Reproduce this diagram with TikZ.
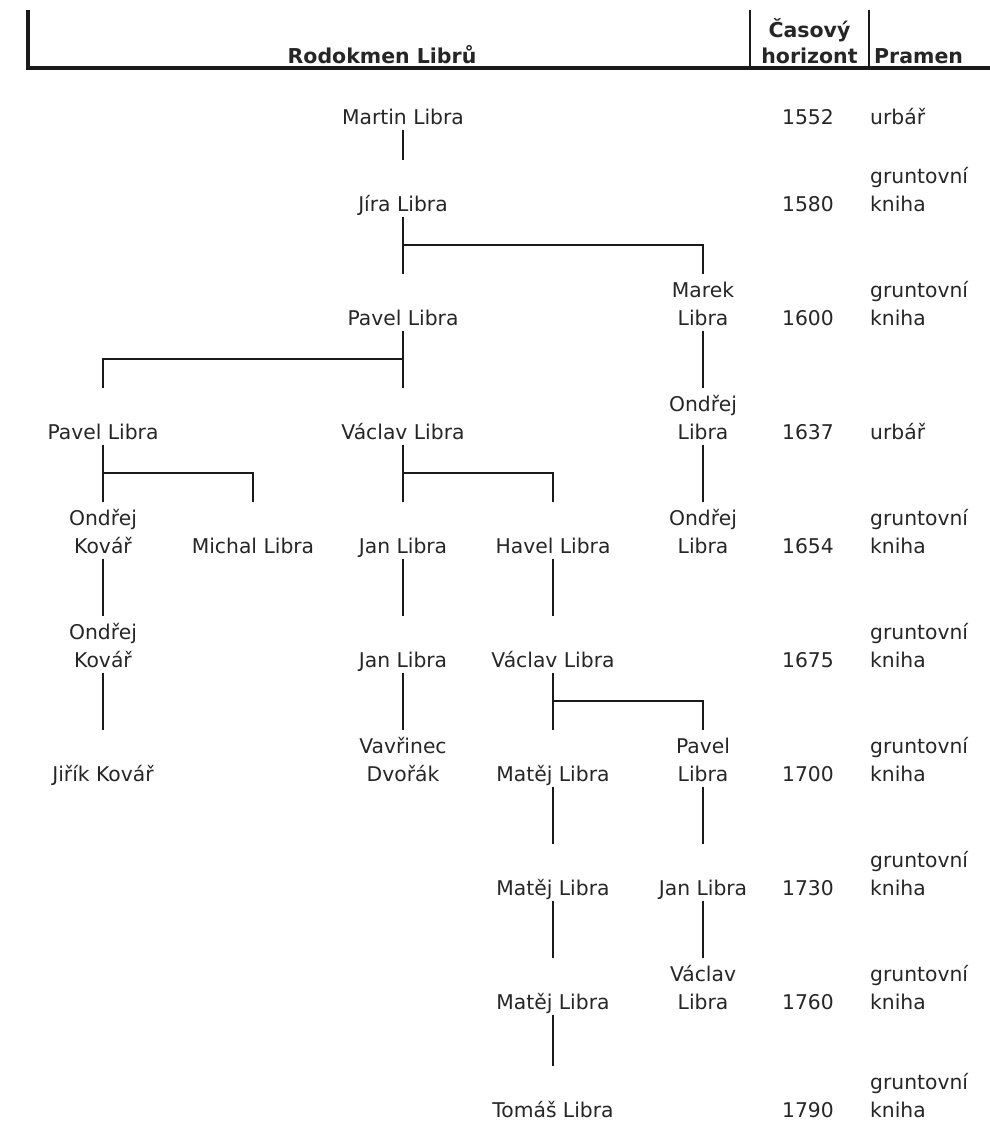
\documentclass[tikz,border=0pt]{standalone}
\usepackage{fontspec}
\setmainfont{DejaVu Sans}
\usetikzlibrary{calc}
\definecolor{txt}{HTML}{262626}
\definecolor{ln}{HTML}{1A1A1A}
\newcommand{\tkchild}[2]{\draw[link] ($(#1.base)+(0,5.5)$) -- ($(#2.base)+(0,-51)$);}
\newcommand{\tkbranch}[3]{\tkchild{#1}{#2}\draw[link] ($(#1.base)+(0,34)$) -| ($(#3.base)+(0,-51)$);}
\begin{document}
\begin{tikzpicture}[x=1pt,y=-1pt,
  person/.style={anchor=base, inner sep=0pt, align=center, text=txt, font=\fontsize{20.3}{28}\selectfont},
  yr/.style={anchor=base, inner sep=0pt, text=txt, font=\fontsize{20.3}{28}\selectfont},
  src/.style={anchor=base west, inner sep=0pt, align=left, text=txt, font=\fontsize{20.3}{28}\selectfont},
  head/.style={anchor=base, inner sep=0pt, align=center, text=txt, font=\bfseries\fontsize{20.5}{26}\selectfont},
  link/.style={draw=ln, line width=1.6pt},
  rulebar/.style={draw=ln, line width=3.6pt},
  sepbar/.style={draw=ln, line width=2.4pt}]
\fill[white] (0,0) rectangle (989,1122);
\useasboundingbox (0,0) rectangle (989,1122);
% header
\draw[rulebar] (28,10) |- (995,68);
\draw[sepbar] (750,10) -- (750,68);
\draw[sepbar] (869,10) -- (869,68);
\node[head] (hname) at (382,63) {Rodokmen Librů};
\node[head] (htime) at (809.5,63) {Časový\\horizont};
\node[head, anchor=base west] (hsrc) at (874,63) {Pramen};
% years and sources
\node[yr] (y1552) at (808,124) {1552};  \node[src] (s1552) at (870,124) {urbář};
\node[yr] (y1580) at (808,211) {1580};  \node[src] (s1580) at (870,211) {gruntovní\\kniha};
\node[yr] (y1600) at (808,325) {1600};  \node[src] (s1600) at (870,325) {gruntovní\\kniha};
\node[yr] (y1637) at (808,439) {1637};  \node[src] (s1637) at (870,439) {urbář};
\node[yr] (y1654) at (808,553) {1654};  \node[src] (s1654) at (870,553) {gruntovní\\kniha};
\node[yr] (y1675) at (808,667) {1675};  \node[src] (s1675) at (870,667) {gruntovní\\kniha};
\node[yr] (y1700) at (808,781) {1700};  \node[src] (s1700) at (870,781) {gruntovní\\kniha};
\node[yr] (y1730) at (808,895) {1730};  \node[src] (s1730) at (870,895) {gruntovní\\kniha};
\node[yr] (y1760) at (808,1009) {1760}; \node[src] (s1760) at (870,1009) {gruntovní\\kniha};
\node[yr] (y1790) at (808,1117) {1790}; \node[src] (s1790) at (870,1117) {gruntovní\\kniha};
% people
\node[person] (martin) at (403,124) {Martin Libra};
\node[person] (jira) at (403,211) {Jíra Libra};
\node[person] (pavel1) at (403,325) {Pavel Libra};
\node[person] (marek) at (703,325) {Marek\\Libra};
\node[person] (pavel2) at (103,439) {Pavel Libra};
\node[person] (vaclav1) at (403,439) {Václav Libra};
\node[person] (ondrej1) at (703,439) {Ondřej\\Libra};
\node[person] (kovar1) at (103,553) {Ondřej\\Kovář};
\node[person] (michal) at (253,553) {Michal Libra};
\node[person] (jan1) at (403,553) {Jan Libra};
\node[person] (havel) at (553,553) {Havel Libra};
\node[person] (ondrej2) at (703,553) {Ondřej\\Libra};
\node[person] (kovar2) at (103,667) {Ondřej\\Kovář};
\node[person] (jan2) at (403,667) {Jan Libra};
\node[person] (vaclav2) at (553,667) {Václav Libra};
\node[person] (jirik) at (103,781) {Jiřík Kovář};
\node[person] (vavrinec) at (403,781) {Vavřinec\\Dvořák};
\node[person] (matej1) at (553,781) {Matěj Libra};
\node[person] (pavel3) at (703,781) {Pavel\\Libra};
\node[person] (matej2) at (553,895) {Matěj Libra};
\node[person] (jan3) at (703,895) {Jan Libra};
\node[person] (matej3) at (553,1009) {Matěj Libra};
\node[person] (vaclav3) at (703,1009) {Václav\\Libra};
\node[person] (tomas) at (553,1117) {Tomáš Libra};
% connectors
\tkchild{martin}{jira}
\tkbranch{jira}{pavel1}{marek}
\tkbranch{pavel1}{vaclav1}{pavel2}
\tkchild{marek}{ondrej1}
\tkbranch{pavel2}{kovar1}{michal}
\tkbranch{vaclav1}{jan1}{havel}
\tkchild{ondrej1}{ondrej2}
\tkchild{kovar1}{kovar2}
\tkchild{jan1}{jan2}
\tkchild{havel}{vaclav2}
\tkchild{kovar2}{jirik}
\tkchild{jan2}{vavrinec}
\tkbranch{vaclav2}{matej1}{pavel3}
\tkchild{matej1}{matej2}
\tkchild{pavel3}{jan3}
\tkchild{matej2}{matej3}
\tkchild{jan3}{vaclav3}
\tkchild{matej3}{tomas}
\end{tikzpicture}
\end{document}
